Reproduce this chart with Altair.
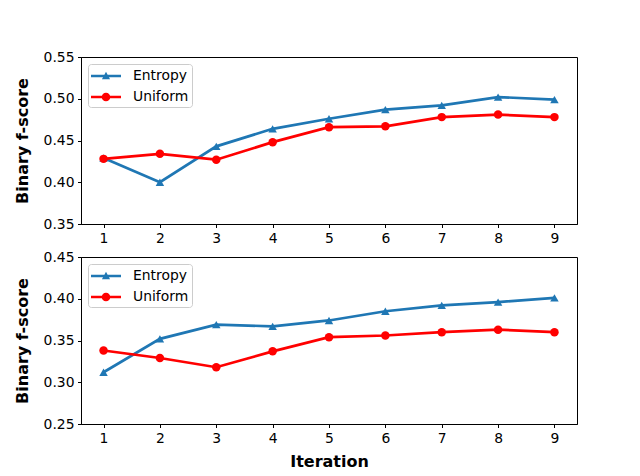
import altair as alt
import pandas as pd

iterations = [1, 2, 3, 4, 5, 6, 7, 8, 9]
entropy_top = [0.429, 0.400, 0.443, 0.464, 0.476, 0.487, 0.492, 0.502, 0.499]
uniform_top = [0.428, 0.434, 0.427, 0.448, 0.466, 0.467, 0.478, 0.481, 0.478]
entropy_bottom = [0.312, 0.352, 0.369, 0.367, 0.374, 0.385, 0.392, 0.396, 0.401]
uniform_bottom = [0.338, 0.329, 0.318, 0.337, 0.354, 0.356, 0.360, 0.363, 0.360]
series_names = ["Entropy", "Uniform"]
series_colors = ["#1f77b4", "#ff0000"]
top_ticks = [0.35, 0.40, 0.45, 0.50, 0.55]
bottom_ticks = [0.25, 0.30, 0.35, 0.40, 0.45]

FONT = "DejaVu Sans"
# legend glyphs: a line segment with the marker in the middle
legend_paths = [
    "M-1,-0.15H2.333V0.15H-1Z M0.217,0.36L0.667,-0.46L1.117,0.36Z",
    "M-1,-0.15H2.333V0.15H-1Z M0.187,0A0.48,0.48,0,1,1,1.147,0A0.48,0.48,0,1,1,0.187,0Z",
]


def panel(ent, uni, ydomain, yticks, show_xtitle):
    df = pd.DataFrame({
        "Iteration": iterations * 2,
        "score": ent + uni,
        "series": [series_names[0]] * len(ent) + [series_names[1]] * len(uni),
    })
    xkw = dict(scale=alt.Scale(domain=[0.6, 9.4], nice=False, zero=False),
               axis=alt.Axis(values=iterations, format="d", labelFlush=False,
                             titlePadding=9))
    if show_xtitle:
        xkw["title"] = "Iteration"
    else:
        xkw["title"] = None
    x = alt.X("Iteration:Q", **xkw)
    y = alt.Y("score:Q", title="Binary f-score",
              scale=alt.Scale(domain=ydomain, nice=False, zero=False),
              axis=alt.Axis(values=yticks, format=".2f", labelFlush=False,
                            titlePadding=13))
    base = alt.Chart(df).encode(x=x, y=y)
    layers = []
    shapes = ["triangle-up", "circle"]
    for name, col, shp in zip(series_names, series_colors, shapes):
        sub = base.transform_filter(alt.datum.series == name)
        layers.append(sub.mark_line(color=col, strokeWidth=2.7))
        layers.append(sub.mark_point(shape=shp, filled=True, size=72, color=col, opacity=1))
    legend_kw = dict(title=None, orient="top-left", offset=7, padding=3,
                     fillColor="rgba(255,255,255,0.8)", strokeColor="#cccccc",
                     cornerRadius=3, labelFontSize=13.9, labelFont=FONT,
                     labelColor="black", symbolSize=324, symbolOpacity=1,
                     symbolStrokeWidth=0, labelOffset=24, rowPadding=5)
    leg = base.mark_point(filled=True, opacity=0).encode(
        color=alt.Color("series:N", scale=alt.Scale(domain=series_names, range=series_colors),
                        legend=alt.Legend(**legend_kw)),
        shape=alt.Shape("series:N", scale=alt.Scale(domain=series_names, range=legend_paths),
                        legend=alt.Legend(**legend_kw)),
    )
    layers.append(leg)
    return alt.layer(*layers).properties(width=496, height=167)


top = panel(entropy_top, uniform_top, [0.35, 0.55], top_ticks, False)
bottom = panel(entropy_bottom, uniform_bottom, [0.25, 0.45], bottom_ticks, True)

chart = alt.vconcat(top, bottom, spacing=33, bounds="flush").resolve_scale(
    color="independent", shape="independent"
).resolve_legend(color="independent", shape="independent").properties(
    padding={"top": 41, "left": 5, "right": 5, "bottom": 5},
    background="white",
).configure_view(
    stroke="black", strokeWidth=1
).configure_axis(
    grid=False, domainColor="black", tickColor="black", labelColor="black",
    tickSize=3.5, labelPadding=3.5, labelFont=FONT, labelFontSize=13.9,
    titleFont=FONT, titleFontSize=16, titleFontWeight="bold", titleColor="black",
    domainWidth=1, tickWidth=1,
)

chart.save("out.html", embed_options={"renderer": "svg", "actions": False})
